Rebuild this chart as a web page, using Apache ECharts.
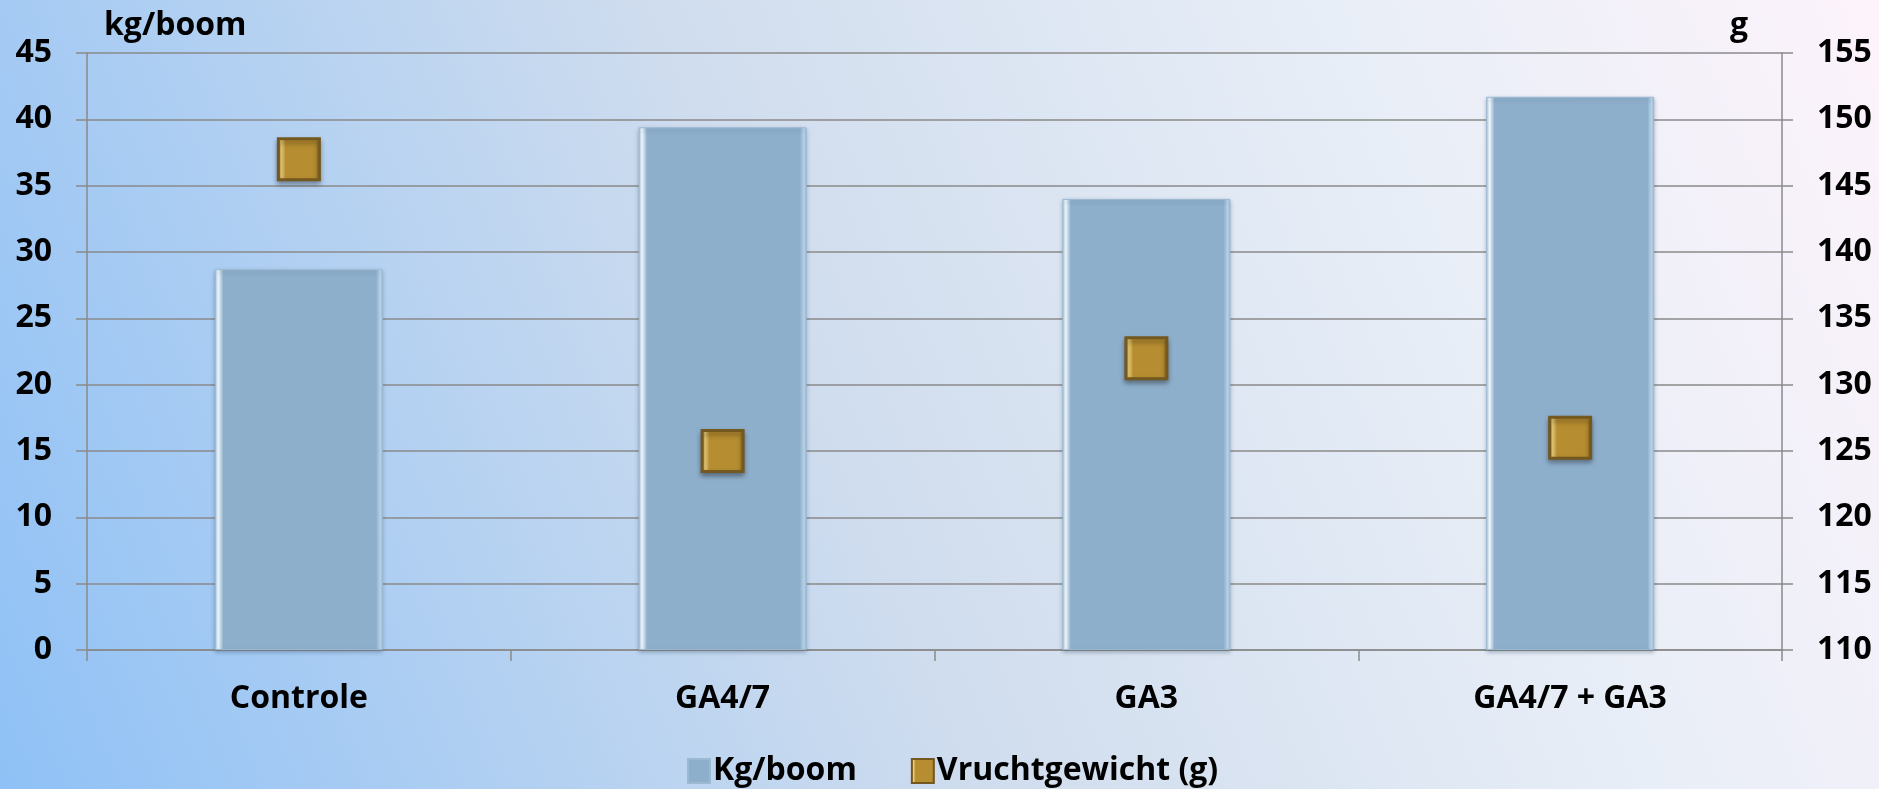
<!DOCTYPE html>
<html>
<head>
<meta charset="utf-8">
<script src="https://cdn.jsdelivr.net/npm/echarts@6/dist/echarts.min.js"></script>
<style>
html,body{margin:0;padding:0;}
#c{width:1879px;height:789px;}
</style>
</head>
<body>
<div id="c"></div>
<script>
const categories = ['Controle', 'GA4/7', 'GA3', 'GA4/7 + GA3'];
const kgPerTree = [28.7, 39.4, 34.0, 41.7];
const fruitWeight = [147, 125, 132, 126];
const leftTicks = {min: 0, max: 45, interval: 5};
const rightTicks = {min: 110, max: 155, interval: 5};
const seriesNames = ['Kg/boom', 'Vruchtgewicht (g)'];
const axisNames = ['kg/boom', 'g'];

const FONT = "'Open Sans', 'Liberation Sans', sans-serif";
const chart = echarts.init(document.getElementById('c'));
const gray = '#8a8a8a';
const labelStyle = {color: '#000', fontFamily: FONT, fontWeight: 'bold', fontSize: 32};

chart.setOption({
  backgroundColor: new echarts.graphic.LinearGradient(0, 1, 1, 0, [
    {offset: 0, color: '#8fc1f6'},
    {offset: 0.45, color: '#d0ddee'},
    {offset: 0.75, color: '#e8eef7'},
    {offset: 1, color: '#fdf3fb'}
  ]),
  animation: false,
  grid: {left: 87, right: 97, top: 53, bottom: 139},
  legend: {
    left: 682, top: 750,
    itemGap: 54, itemWidth: 22, itemHeight: 24,
    textStyle: Object.assign({}, labelStyle, {padding: [0, 0, 0, -2]}),
    data: [
      {name: seriesNames[0], icon: 'rect'},
      {name: seriesNames[1], icon: 'rect'}
    ]
  },
  xAxis: {
    type: 'category',
    data: categories,
    axisLine: {lineStyle: {color: gray, width: 1.5}},
    axisTick: {show: true, length: 11, lineStyle: {color: gray, width: 1.5}},
    axisLabel: Object.assign({margin: 33}, labelStyle)
  },
  yAxis: [
    {
      type: 'value', position: 'left',
      min: leftTicks.min, max: leftTicks.max, interval: leftTicks.interval,
      name: axisNames[0], nameLocation: 'end', nameGap: 11,
      nameTextStyle: Object.assign({align: 'left', padding: [0, 0, 0, 17]}, labelStyle),
      axisLine: {show: true, lineStyle: {color: gray, width: 1.5}},
      axisTick: {show: true, length: 11, lineStyle: {color: gray, width: 1.5}},
      axisLabel: Object.assign({margin: 35}, labelStyle),
      splitLine: {show: true, lineStyle: {color: gray, width: 1.5}}
    },
    {
      type: 'value', position: 'right',
      min: rightTicks.min, max: rightTicks.max, interval: rightTicks.interval,
      name: axisNames[1], nameLocation: 'end', nameGap: 11,
      nameTextStyle: Object.assign({align: 'right', padding: [0, 34, 0, 0]}, labelStyle),
      axisLine: {show: true, lineStyle: {color: gray, width: 1.5}},
      axisTick: {show: true, length: 11, lineStyle: {color: gray, width: 1.5}},
      axisLabel: Object.assign({margin: 35}, labelStyle),
      splitLine: {show: false}
    }
  ],
  series: [
    {
      name: seriesNames[0],
      type: 'bar',
      yAxisIndex: 0,
      barWidth: 168,
      data: kgPerTree,
      itemStyle: {
        color: new echarts.graphic.LinearGradient(0, 0, 1, 0, [
          {offset: 0, color: '#a9c6df'},
          {offset: 0.02, color: '#f2faff'},
          {offset: 0.05, color: '#8eafcc'},
          {offset: 0.96, color: '#8eafcc'},
          {offset: 0.985, color: '#bcd8ee'},
          {offset: 1, color: '#9fbdd6'}
        ]),
        borderColor: '#9db9d2',
        borderWidth: 1,
        shadowColor: 'rgba(60,80,100,0.35)',
        shadowBlur: 4,
        shadowOffsetY: 2
      }
    },
    {
      name: seriesNames[1],
      type: 'scatter',
      yAxisIndex: 1,
      symbol: 'rect',
      symbolSize: 41,
      data: fruitWeight,
      itemStyle: {
        color: new echarts.graphic.LinearGradient(0, 0, 1, 0, [
          {offset: 0, color: '#8a6a22'},
          {offset: 0.1, color: '#f0d27a'},
          {offset: 0.2, color: '#b68d30'},
          {offset: 0.88, color: '#b68d30'},
          {offset: 1, color: '#8e6d25'}
        ]),
        borderColor: '#735820',
        borderWidth: 3,
        opacity: 1,
        shadowColor: 'rgba(0,0,0,0.35)',
        shadowBlur: 5,
        shadowOffsetY: 3
      },
      z: 5
    }
  ]
});
</script>
</body>
</html>
